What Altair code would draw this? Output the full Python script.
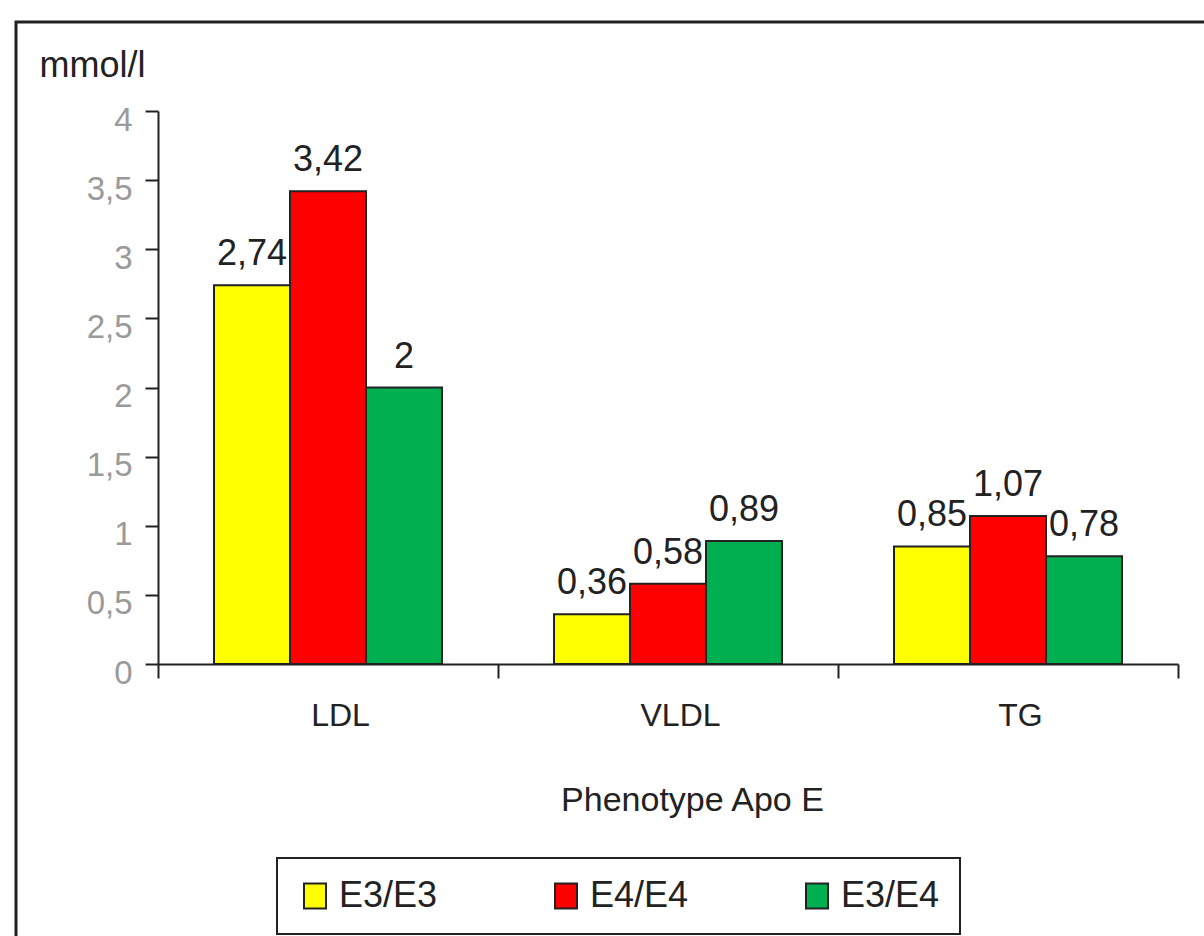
import altair as alt
import pandas as pd

categories = ["LDL", "VLDL", "TG"]
phenotypes = ["E3/E3", "E4/E4", "E3/E4"]
colors = ["#FFFF00", "#FF0000", "#00B050"]
values_e3e3 = [2.74, 0.36, 0.85]
values_e4e4 = [3.42, 0.58, 1.07]
values_e3e4 = [2.00, 0.89, 0.78]
y_ticks = [0, 0.5, 1, 1.5, 2, 2.5, 3, 3.5, 4]

rows = []
for i, c in enumerate(categories):
    for p, vals in zip(phenotypes, [values_e3e3, values_e4e4, values_e3e4]):
        rows.append({"cat": c, "ph": p, "value": vals[i]})
df = pd.DataFrame(rows)

FONT = "Liberation Sans"
TXT = "#222222"

x_enc = alt.X("cat:N", sort=categories,
              scale=alt.Scale(paddingInner=0, paddingOuter=0),
              axis=alt.Axis(title="Phenotype Apo E", labelAngle=0, tickBand="extent",
                            labelFontSize=32, labelColor=TXT, labelPadding=22, labelOffset=12,
                            labelFont=FONT, tickSize=14, tickWidth=2, tickColor=TXT,
                            domainColor=TXT, domainWidth=2,
                            titleFont=FONT, titleFontSize=34, titleFontWeight="normal",
                            titleColor=TXT, titleX=534, titleY=146, titleAlign="center",
                            titleBaseline="alphabetic"))
xoff_enc = alt.XOffset("ph:N", sort=phenotypes,
                       scale=alt.Scale(paddingInner=0, paddingOuter=0.737))
y_enc = alt.Y("value:Q", scale=alt.Scale(domain=[0, 4], nice=False),
              axis=alt.Axis(title="mmol/l", values=y_ticks, grid=False,
                            labelExpr="replace(toString(datum.value), '.', ',')",
                            labelFontSize=33, labelColor="#9a9a9a", labelFont=FONT,
                            labelPadding=13, labelOffset=9,
                            tickSize=13, tickWidth=2, tickColor=TXT,
                            domainColor=TXT, domainWidth=2,
                            titleAngle=0, titleX=-119, titleY=-35, titleAlign="left",
                            titleBaseline="alphabetic", titleFont=FONT, titleFontSize=36,
                            titleFontWeight="normal", titleColor=TXT))

bars = alt.Chart(df).mark_bar(stroke=TXT, strokeWidth=2, opacity=1).encode(
    x=x_enc,
    xOffset=xoff_enc,
    y=y_enc,
    color=alt.Color("ph:N", sort=phenotypes,
                    scale=alt.Scale(domain=phenotypes, range=colors),
                    legend=alt.Legend(title=None, orient="none", direction="horizontal",
                                      legendX=119, legendY=747,
                                      symbolType="M-0.88,-1H0.88V1H-0.88Z", symbolSize=625,
                                      symbolStrokeColor=TXT, symbolStrokeWidth=2,
                                      symbolOpacity=1,
                                      labelFont=FONT, labelFontSize=36, labelColor=TXT,
                                      labelOffset=6, columnPadding=110, padding=20,
                                      strokeColor=TXT, labelLimit=300)),
)

labels = alt.Chart(df).transform_calculate(
    lab="replace(toString(datum.value), '.', ',')"
).mark_text(font=FONT, fontSize=36, color=TXT, baseline="alphabetic", dy=-20).encode(
    x=alt.X("cat:N", sort=categories),
    xOffset=alt.XOffset("ph:N", sort=phenotypes),
    y=alt.Y("value:Q"),
    text="lab:N",
)

frame = alt.Chart(pd.DataFrame({"a": [0]})).mark_rect(
    fill=None, stroke=TXT, strokeWidth=3, clip=False
).encode(x=alt.value(-142), x2=alt.value(1070), y=alt.value(-89), y2=alt.value(850))

chart = alt.layer(frame, bars, labels).properties(
    width=1020, height=553,
    autosize=alt.AutoSizeParams(type="none"),
    padding={"left": 158, "top": 111, "right": 26, "bottom": 272},
    background="white",
).configure_view(stroke=None).configure_legend(strokeWidth=2)

chart.save("out.html", embed_options={"renderer": "svg", "actions": False})
